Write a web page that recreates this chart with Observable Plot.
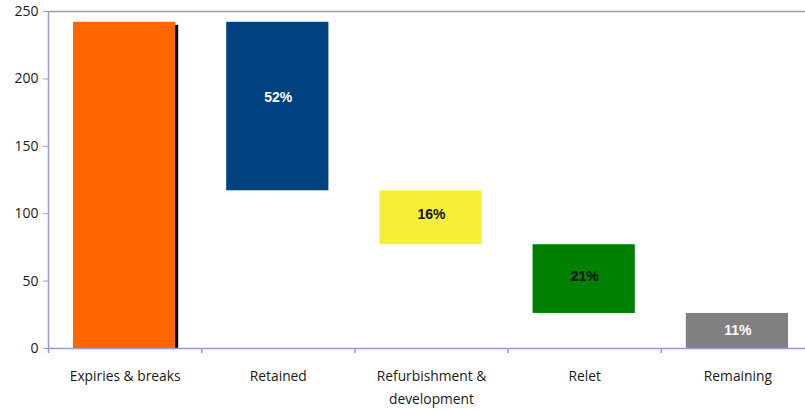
<!DOCTYPE html>
<html>
<head>
<meta charset="utf-8">
<script src="https://cdn.jsdelivr.net/npm/d3@7"></script>
<script src="https://cdn.jsdelivr.net/npm/@observablehq/plot@0.6"></script>
<style>
  body { margin: 0; background: #fff; }
  #chart { width: 805px; height: 411px; overflow: hidden; }
</style>
</head>
<body>
<div id="chart"></div>
<script>
const categories = ["Expiries & breaks", "Retained", "Refurbishment &\ndevelopment", "Relet", "Remaining"];
const startValues = [0, 117, 77, 26, 0];
const endValues = [242, 242, 117, 77, 26];
const pctLabels = [null, "52%", "16%", "21%", "11%"];
const colors = ["#FF6600", "#00427F", "#F6EE38", "#008000", "#808080"];
const labelColors = [null, "#ffffff", "#111111", "#111111", "#ffffff"];
const yTicks = [0, 50, 100, 150, 200, 250];

const data = categories.map((c, i) => ({
  i, name: c, y1: startValues[i], y2: endValues[i],
  pct: pctLabels[i], color: colors[i], labelColor: labelColors[i]
}));

const axisColor = "#9a9acc";
const font = "'Open Sans', 'DejaVu Sans', sans-serif";

const pctText = (filter, dy) => Plot.text(data.filter(d => d.pct && filter(d)), {
  x: d => d.i + 0.5, y: d => (d.y1 + d.y2) / 2, text: "pct", dy,
  fill: "labelColor", fontSize: 14, fontWeight: "bold",
  fontFamily: "'Liberation Sans', Arial, sans-serif"
});

const chart = Plot.plot({
  width: 805,
  height: 411,
  marginLeft: 48,
  marginRight: 0,
  marginTop: 11,
  marginBottom: 63,
  style: { fontFamily: font, background: "#fff" },
  x: { type: "linear", domain: [0, categories.length], range: [48, 814], axis: null },
  y: { type: "linear", domain: [0, 250], axis: null },
  marks: [
    Plot.ruleY([250], { stroke: axisColor, strokeWidth: 1.5 }),
    Plot.ruleX([0], { y1: 0, y2: 250, stroke: axisColor, strokeWidth: 1.5 }),
    Plot.rect(data.filter(d => d.i === 0), {
      x1: d => d.i, x2: d => d.i + 1, y1: "y1", y2: "y2",
      insetLeft: 28, insetRight: 23, insetTop: 3, fill: "#000"
    }),
    Plot.rect(data, {
      x1: d => d.i, x2: d => d.i + 1, y1: "y1", y2: "y2",
      insetLeft: 25, insetRight: 26, fill: "color"
    }),
    Plot.ruleY([0], { stroke: axisColor, strokeWidth: 1.5 }),
    Plot.ruleX(d3.range(categories.length + 1), {
      x: d => d, y1: 0, y2: 0, insetBottom: -5, stroke: axisColor, strokeWidth: 1.5
    }),
    Plot.axisY(yTicks, {
      tickSize: 5, tickPadding: 5, stroke: axisColor, fill: "#1a1a1a",
      fontSize: 14, fontFamily: font, tickFormat: d => d
    }),
    Plot.text(data, {
      x: d => d.i + 0.5, y: 0, text: "name", dy: 16, lineAnchor: "top",
      lineHeight: 1.68, fontSize: 13.8, fill: "#1a1a1a", fontFamily: font
    }),
    pctText(d => d.i === 1, -9),
    pctText(d => d.i === 2 || d.i === 3, -3),
    pctText(d => d.i === 4, 0)
  ]
});

document.getElementById("chart").appendChild(chart);
</script>
</body>
</html>
